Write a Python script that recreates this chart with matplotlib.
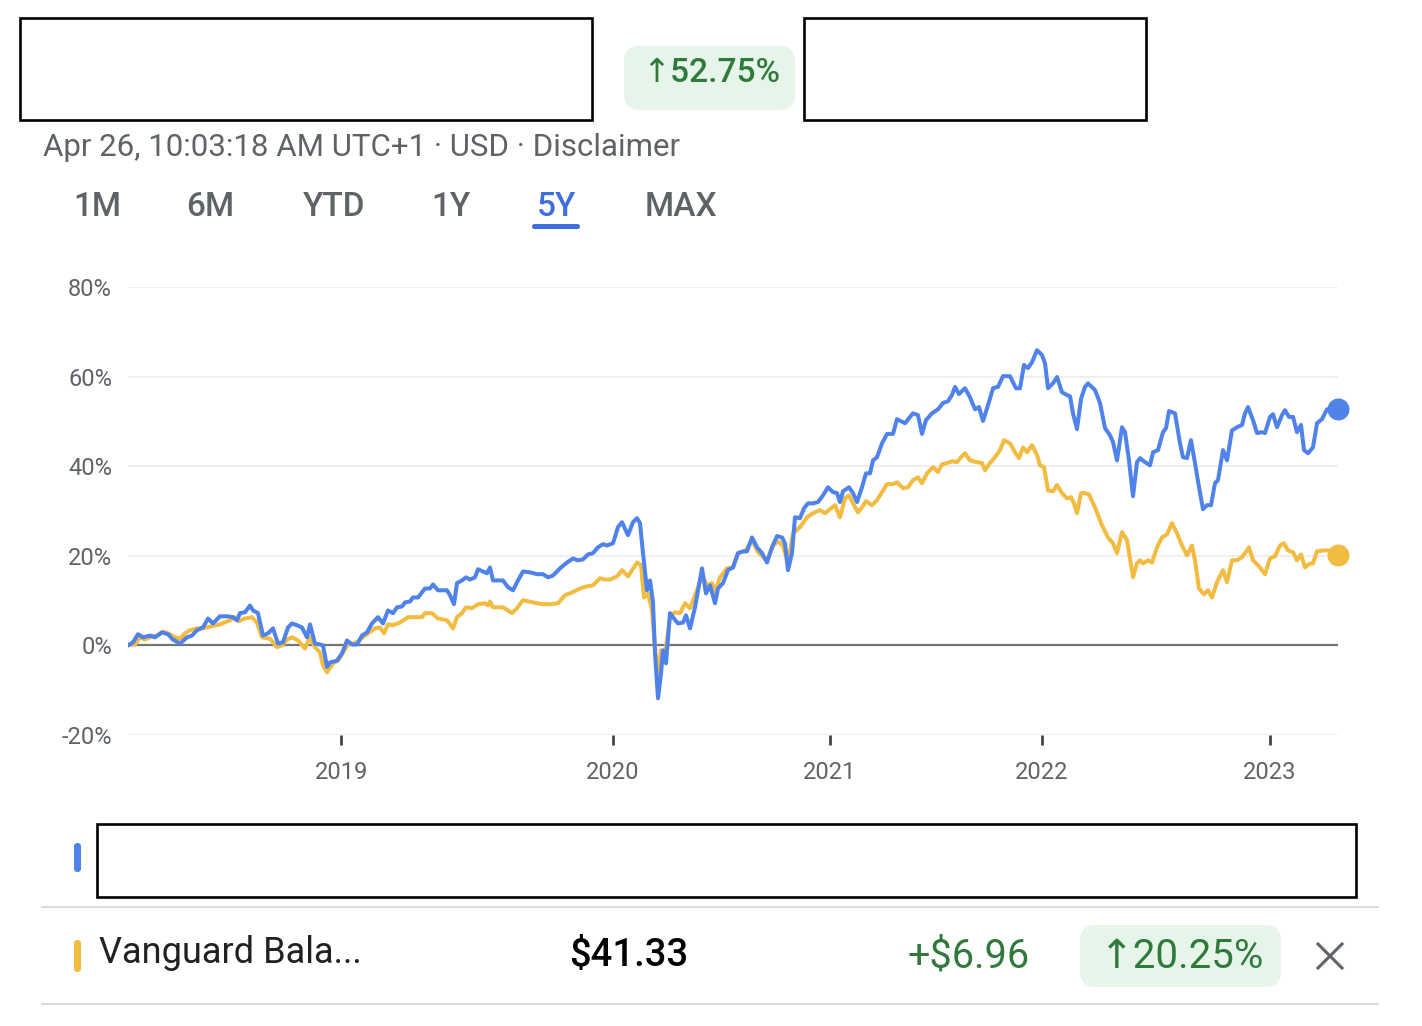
import matplotlib
matplotlib.use("Agg")
import matplotlib.pyplot as plt
from matplotlib.patches import Rectangle, FancyBboxPatch

plt.rcParams['font.family'] = ['Roboto', 'DejaVu Sans']

# x is the position along the 5Y chart (0 = Apr 2018 start, 1210 = Apr 2023 end)
year_pos = [213, 485, 702, 914, 1142]
year_labels = ['2019', '2020', '2021', '2022', '2023']
y_ticks = [-20, 0, 20, 40, 60, 80]

blue_x = [0, 5, 10, 15, 22, 27, 34, 40, 45, 52, 59, 64, 69, 75, 80, 85, 92, 99, 105, 109,
          112, 117, 122, 125, 130, 135, 140, 145, 150, 155, 160, 164, 169, 174, 179, 182, 187, 192, 195, 199,
          202, 209, 214, 219, 224, 229, 234, 239, 244, 250, 255, 260, 265, 269, 274, 277, 282, 285, 290, 297,
          302, 305, 310, 319, 322, 326, 329, 334, 338, 342, 347, 350, 355, 359, 362, 365, 375, 380, 385, 390,
          395, 402, 409, 415, 420, 425, 432, 439, 445, 450, 455, 460, 465, 470, 475, 479, 485, 490, 494, 500,
          505, 509, 512, 515, 519, 522, 525, 527, 530, 533, 535, 538, 542, 546, 550, 555, 558, 562, 567, 574,
          578, 582, 587, 590, 595, 600, 605, 610, 615, 619, 624, 629, 634, 639, 644, 649, 654, 657, 660, 664,
          667, 672, 676, 680, 685, 690, 695, 700, 705, 709, 712, 715, 721, 725, 729, 734, 738, 742, 745, 749,
          754, 759, 765, 769, 777, 785, 790, 794, 798, 804, 810, 815, 820, 824, 827, 831, 837, 842, 847, 851,
          855, 860, 865, 870, 875, 882, 888, 892, 896, 900, 904, 909, 914, 917, 920, 925, 929, 934, 939, 942,
          945, 949, 953, 957, 960, 967, 972, 977, 982, 985, 989, 994, 997, 1001, 1005, 1009, 1012, 1017, 1022, 1025,
          1030, 1035, 1038, 1041, 1047, 1052, 1055, 1059, 1063, 1067, 1071, 1075, 1079, 1083, 1087, 1090, 1095, 1099, 1104, 1109,
          1114, 1117, 1120, 1125, 1129, 1134, 1137, 1142, 1145, 1149, 1154, 1157, 1161, 1165, 1169, 1173, 1176, 1180, 1185, 1189,
          1194, 1199, 1204, 1210]
blue_y = [0.0, 0.7, 2.5, 1.8, 2.2, 1.8, 2.9, 2.5, 1.3, 0.4, 1.8, 2.2, 3.4, 4.0, 6.0, 4.9, 6.5, 6.5, 6.3, 5.6,
          7.2, 7.4, 8.9, 7.8, 7.2, 2.2, 2.7, 3.8, 0.4, 0.7, 4.0, 4.9, 4.5, 4.0, 1.8, 4.7, 0.4, 0.2, 0.0, -4.8,
          -3.8, -3.4, -1.8, 1.1, 0.2, 0.2, 2.2, 2.9, 4.9, 6.3, 4.9, 7.8, 7.2, 8.5, 8.7, 9.6, 9.8, 10.7, 10.7, 12.7,
          12.7, 13.6, 12.3, 12.3, 11.2, 9.2, 13.9, 14.5, 15.2, 14.7, 15.2, 17.0, 16.5, 16.1, 17.4, 14.5, 14.5, 13.0, 12.3, 14.5,
          16.5, 16.3, 15.9, 15.9, 15.2, 15.6, 17.2, 18.5, 19.4, 19.0, 19.2, 20.3, 20.6, 21.9, 22.6, 22.3, 22.8, 26.4, 27.5, 24.6,
          27.5, 28.4, 27.3, 20.6, 12.3, 14.5, 9.6, -1.8, -11.8, -6.3, -1.1, -4.0, 7.2, 6.0, 4.9, 5.1, 6.7, 3.8, 8.5, 17.2,
          11.6, 13.4, 9.4, 12.7, 13.9, 16.8, 17.4, 20.6, 21.0, 21.0, 24.1, 21.9, 20.6, 18.5, 21.9, 24.4, 24.1, 22.8, 16.8, 20.6,
          28.6, 28.4, 30.6, 31.7, 31.7, 32.0, 33.5, 35.3, 34.2, 34.0, 32.0, 34.4, 35.3, 34.0, 32.0, 35.3, 38.4, 38.4, 41.3, 42.0,
          45.1, 47.2, 47.2, 50.5, 49.6, 51.8, 51.4, 47.2, 50.3, 51.8, 52.7, 54.1, 54.5, 55.9, 57.7, 56.1, 57.4, 55.4, 52.7, 53.2,
          50.1, 53.6, 57.4, 57.7, 60.1, 60.1, 57.4, 57.4, 62.6, 61.9, 63.2, 65.9, 64.8, 63.0, 57.4, 58.5, 59.9, 56.5, 55.9, 55.6,
          51.8, 48.3, 55.0, 57.7, 58.5, 57.0, 54.1, 48.5, 46.9, 45.4, 41.3, 48.7, 47.6, 41.3, 33.3, 40.9, 41.8, 40.9, 40.2, 43.1,
          43.6, 47.6, 48.5, 52.3, 51.8, 45.1, 42.0, 41.8, 45.8, 40.7, 35.3, 30.4, 31.3, 31.3, 36.2, 36.9, 43.6, 41.3, 48.0, 48.7,
          49.2, 51.8, 53.2, 50.3, 47.4, 47.6, 47.4, 51.0, 51.6, 48.7, 51.4, 52.5, 51.0, 51.0, 47.6, 49.2, 43.6, 42.9, 44.2, 49.6,
          50.5, 52.7, 52.7, 52.75]

gold_x = [0, 7, 12, 17, 24, 29, 35, 40, 47, 52, 57, 62, 69, 75, 82, 92, 102, 107, 110, 117,
          124, 129, 134, 142, 149, 154, 159, 164, 170, 177, 182, 187, 192, 195, 199, 205, 210, 215, 220, 225,
          230, 235, 240, 247, 252, 256, 260, 265, 272, 280, 287, 294, 297, 304, 310, 319, 325, 329, 334, 338,
          344, 350, 357, 360, 362, 365, 375, 384, 389, 395, 405, 414, 422, 430, 437, 444, 452, 459, 465, 472,
          477, 482, 489, 494, 500, 509, 513, 516, 520, 524, 527, 530, 533, 537, 542, 547, 552, 557, 562, 569,
          574, 579, 584, 587, 592, 599, 605, 610, 617, 624, 630, 639, 645, 650, 655, 660, 665, 672, 679, 685,
          692, 697, 702, 707, 712, 717, 721, 725, 730, 734, 738, 744, 749, 754, 759, 765, 769, 775, 780, 785,
          790, 794, 799, 805, 810, 814, 819, 824, 829, 833, 837, 842, 849, 854, 857, 862, 867, 872, 876, 882,
          887, 891, 895, 899, 904, 909, 912, 916, 920, 925, 929, 934, 939, 943, 946, 949, 953, 957, 961, 967,
          974, 980, 985, 989, 994, 999, 1005, 1009, 1012, 1015, 1020, 1024, 1029, 1034, 1039, 1044, 1049, 1054, 1059, 1064,
          1067, 1071, 1076, 1080, 1084, 1089, 1095, 1099, 1104, 1109, 1114, 1119, 1121, 1125, 1130, 1137, 1142, 1147, 1152, 1156,
          1160, 1165, 1169, 1173, 1177, 1182, 1185, 1189, 1195, 1200, 1210]
gold_y = [0.0, 0.2, 1.8, 1.3, 2.0, 2.2, 3.1, 2.7, 1.8, 1.5, 2.7, 3.4, 3.8, 3.8, 4.2, 4.7, 5.6, 6.3, 5.4, 6.0,
          6.3, 5.1, 1.8, 1.5, -0.4, 0.0, 1.3, 1.8, 1.1, -0.7, 1.8, -0.4, -1.6, -4.5, -6.0, -4.0, -3.4, -1.6, 0.2, 0.4,
          0.9, 1.8, 2.7, 3.8, 4.0, 2.7, 4.7, 4.5, 5.1, 6.3, 6.3, 6.3, 7.2, 7.2, 6.0, 5.6, 3.8, 6.3, 7.2, 8.5,
          8.3, 9.2, 9.4, 8.9, 9.8, 8.5, 8.5, 7.2, 8.3, 10.1, 9.6, 9.2, 9.2, 9.4, 11.2, 11.8, 12.7, 13.2, 13.4, 15.0,
          14.7, 14.7, 15.4, 16.8, 15.4, 18.5, 17.9, 10.7, 11.6, 7.8, -0.4, -7.2, -1.1, -2.2, 6.3, 7.4, 7.2, 9.4, 8.3, 12.3,
          15.6, 13.4, 13.9, 12.1, 15.2, 17.2, 17.4, 20.6, 21.0, 23.5, 20.8, 19.0, 22.3, 23.2, 22.3, 18.3, 25.0, 26.4, 28.6, 29.5,
          30.2, 29.5, 30.4, 31.3, 28.6, 32.8, 33.5, 31.7, 29.7, 30.8, 32.2, 31.3, 32.4, 34.2, 36.0, 36.0, 36.4, 35.1, 35.3, 36.9,
          37.5, 36.2, 38.4, 39.8, 38.7, 40.4, 40.7, 41.1, 40.9, 42.0, 42.9, 41.3, 40.9, 40.7, 39.1, 40.7, 42.0, 43.6, 45.8, 45.1,
          43.1, 41.8, 44.2, 43.1, 44.7, 42.5, 40.2, 39.8, 34.6, 34.4, 35.8, 34.0, 32.8, 33.1, 31.7, 29.5, 34.0, 34.0, 33.7, 30.8,
          26.8, 24.1, 22.8, 20.6, 25.3, 23.5, 15.2, 18.3, 19.0, 18.3, 19.0, 18.5, 21.9, 24.1, 24.8, 27.3, 25.0, 22.3, 20.1, 22.3,
          19.0, 12.7, 11.4, 12.3, 10.7, 14.1, 16.8, 14.1, 19.0, 19.0, 19.7, 21.2, 21.9, 19.0, 17.9, 15.9, 19.4, 19.9, 22.3, 22.8,
          21.2, 20.8, 19.0, 20.3, 17.4, 18.3, 18.3, 21.0, 21.2, 21.2, 20.25]

tabs = ['1M', '6M', 'YTD', '1Y', '5Y', 'MAX']
tab_x = [97, 210, 334, 451, 556, 681]
active_tab = '5Y'

BLUE = '#5083ea'
GOLD = '#f2bc42'
GREY = '#5f6368'
GREEN = '#2f7a3b'
PILL = '#e6f4ea'

W, H = 1422, 1026
fig = plt.figure(figsize=(W / 100, H / 100), dpi=100)

# page layer in pixel units
ov = fig.add_axes([0, 0, 1, 1])
ov.set_xlim(0, W)
ov.set_ylim(H, 0)
ov.axis('off')

ov.add_patch(Rectangle((20, 18), 572, 102, fill=False, ec='black', lw=1.9))
ov.add_patch(Rectangle((804, 18), 342, 102, fill=False, ec='black', lw=1.9))
ov.add_patch(FancyBboxPatch((624, 46), 171, 64, boxstyle='round,pad=0,rounding_size=16',
                            fc=PILL, ec='none'))
ov.text(711, 73, '↑52.75%', color=GREEN, fontsize=24, weight='medium', ha='center', va='center')
ov.text(43, 147, 'Apr 26, 10:03:18 AM UTC+1 · USD · Disclaimer', color=GREY,
        fontsize=22.5, ha='left', va='center')

for name, tx in zip(tabs, tab_x):
    c = '#3d6fdc' if name == active_tab else GREY
    ov.text(tx, 207, name, color=c, fontsize=24, weight='medium', ha='center', va='center')
ov.add_patch(FancyBboxPatch((532, 224), 48, 5, boxstyle='round,pad=0,rounding_size=2.5',
                            fc='#3d6fdc', ec='none'))

# compare list
ov.add_patch(FancyBboxPatch((74, 843), 7, 29, boxstyle='round,pad=0,rounding_size=3.5', fc=BLUE, ec='none'))
ov.add_patch(Rectangle((97, 824), 1259, 73, fill=False, ec='black', lw=1.9))
ov.plot([42, 1378], [907, 907], color='#dadce0', lw=1.5)
ov.add_patch(FancyBboxPatch((74, 940), 7, 32, boxstyle='round,pad=0,rounding_size=3.5', fc=GOLD, ec='none'))
ov.text(99, 953, 'Vanguard Bala...', color='#202124', fontsize=26, ha='left', va='center')
ov.text(629, 956, '$41.33', color='black', fontsize=27.5, weight='medium', ha='center', va='center')
ov.text(1030, 956, '+$6.96', color=GREEN, fontsize=28.5, ha='right', va='center')
ov.add_patch(FancyBboxPatch((1080, 925), 201, 62, boxstyle='round,pad=0,rounding_size=16',
                            fc=PILL, ec='none'))
ov.text(1182, 956, '↑20.25%', color=GREEN, fontsize=29, ha='center', va='center')
ov.plot([1318, 1342], [944, 968], color=GREY, lw=2.2)
ov.plot([1318, 1342], [968, 944], color=GREY, lw=2.2)
ov.plot([42, 1378], [1004, 1004], color='#dadce0', lw=1.5)

# chart
ax = fig.add_axes([128 / W, 1 - 735 / H, 1210 / W, 448 / H])
ax.patch.set_alpha(0)
ax.set_xlim(0, 1210)
ax.set_ylim(-20, 80)
ax.set_yticks(y_ticks)
ax.set_yticklabels([f'{v}%' for v in y_ticks])
ax.set_xticks(year_pos)
ax.set_xticklabels(year_labels)
ax.grid(axis='y', color='#eeeeee', lw=1.3)
ax.axhline(0, color='#757575', lw=1.6, zorder=2)
for s in ax.spines.values():
    s.set_visible(False)
ax.tick_params(axis='y', length=0, pad=11.5, labelsize=17, labelcolor=GREY)
ax.tick_params(axis='x', direction='out', length=7, width=2, color='#444444', pad=12,
               labelsize=17, labelcolor=GREY)

ax.plot(blue_x, blue_y, color=BLUE, lw=2.9, solid_joinstyle='round', solid_capstyle='round', zorder=4)
ax.plot(gold_x, gold_y, color=GOLD, lw=2.9, solid_joinstyle='round', solid_capstyle='round', zorder=3)
ax.scatter([blue_x[-1]], [blue_y[-1]], s=220, color=BLUE, zorder=5, clip_on=False)
ax.scatter([gold_x[-1]], [gold_y[-1]], s=220, color=GOLD, zorder=5, clip_on=False)

fig.savefig('out.png', dpi=100)
